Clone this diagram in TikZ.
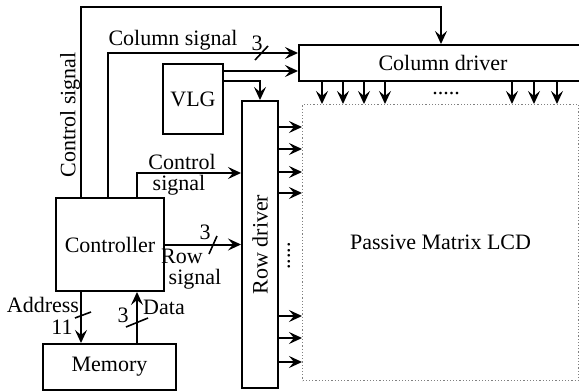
\documentclass[tikz,border=0pt]{standalone}
\usepackage{fontspec}
\setmainfont{Liberation Serif}
\usetikzlibrary{arrows.meta,positioning,calc}

\tikzset{
  blk/.style={draw, line width=1pt, inner sep=0pt, anchor=north west},
  sig/.style={line width=1pt, -{Stealth[length=6.5pt,width=6pt,inset=2.5pt]}},
  busmark/.style={line width=0.8pt},
  lbl/.style={inner sep=0pt},
  lcdbox/.style={draw=gray, densely dotted, line width=0.6pt, inner sep=0pt, anchor=north west},
}

\begin{document}
\begin{tikzpicture}[x=0.5pt, y=-0.5pt, font=\fontsize{11}{12}\selectfont]
\path[use as bounding box, clip] (0,0) rectangle (579,391);

% blocks
\node[blk, minimum width=54pt, minimum height=46.5pt] (ctrl) at (55,197) {Controller};
\node[blk, minimum width=66.5pt, minimum height=23pt] (mem) at (42,343) {Memory};
\node[blk, minimum width=30pt, minimum height=35pt] (vlg) at (162,63) {VLG};
\node[blk, minimum width=18pt, minimum height=143.5pt] (rowdrv) at (241,100) {};
\node[rotate=90] (rowtxt) at (rowdrv.center) {Row driver};
\node[blk, minimum width=144pt, minimum height=18pt] (coldrv) at (298,44) {Column driver};
\node[lcdbox, minimum width=138pt, minimum height=138pt] (lcd) at (302,104) {Passive Matrix LCD};

% control signal to column driver
\coordinate (csTL) at (81,7);
\coordinate (csTR) at (441,7);
\draw[sig] (ctrl.north -| csTL) -- (csTL) -- (csTR) -- (coldrv.north -| csTR);
\node[lbl, rotate=90] (lctlA) at (70,115) {Control signal};

% column signal
\coordinate (colsig) at (108,53);
\draw[sig] (ctrl.north -| colsig) |- (coldrv.west |- colsig);
\draw[busmark] (255,60) -- (268,46);
\node[lbl] (lcolsig) at (173,40) {Column signal};
\node[lbl] (ncol) at (257,43) {3};

% VLG outputs
\coordinate (vlgA) at (230,71);
\coordinate (vlgB) at (230,81);
\draw[sig] (vlg.east |- vlgA) -- (coldrv.west |- vlgA);
\draw[sig] (vlg.east |- vlgB) -| (rowdrv.north);

% control signal to row driver
\coordinate (ctlsig) at (137,173);
\draw[sig] (ctrl.north -| ctlsig) |- (rowdrv.west |- ctlsig);
\node[lbl] (lctlB) at (182,162) {Control};
\node[lbl] (lctlC) at (179,185) {signal};

% row signal
\draw[sig] (ctrl.east) -- (rowdrv.west |- ctrl.east);
\draw[busmark] (209,254) -- (217,236);
\node[lbl] (nrow) at (205,232) {3};
\node[lbl] (lrowA) at (182,256) {Row};
\node[lbl] (lrowB) at (195,279) {signal};

% address and data
\coordinate (addr) at (81,300);
\coordinate (data) at (137,300);
\draw[sig] (ctrl.south -| addr) -- (mem.north -| addr);
\draw[sig] (mem.north -| data) -- (ctrl.south -| data);
\draw[busmark] (75,318) -- (91,312);
\draw[busmark] (126,327) -- (148,318);
\node[lbl] (laddr) at (43,305) {Address};
\node[lbl] (naddr) at (62,327) {11};
\node[lbl] (ndata) at (123,315) {3};
\node[lbl] (ldata) at (164,307) {Data};

% driver outputs
\foreach \y in {127,149,172,193,316,338,362} {
  \coordinate (r) at (0,\y);
  \draw[sig] (rowdrv.east |- r) -- (lcd.west |- r);
}
\foreach \x in {322,343,364,385,512,534,557} {
  \coordinate (c) at (\x,0);
  \draw[sig] (coldrv.south -| c) -- (lcd.north -| c);
}
\node[lbl] (hdots) at (446,94) {.....};
\node[lbl, rotate=90] (vdots) at (289,256) {.....};
\end{tikzpicture}
\end{document}
